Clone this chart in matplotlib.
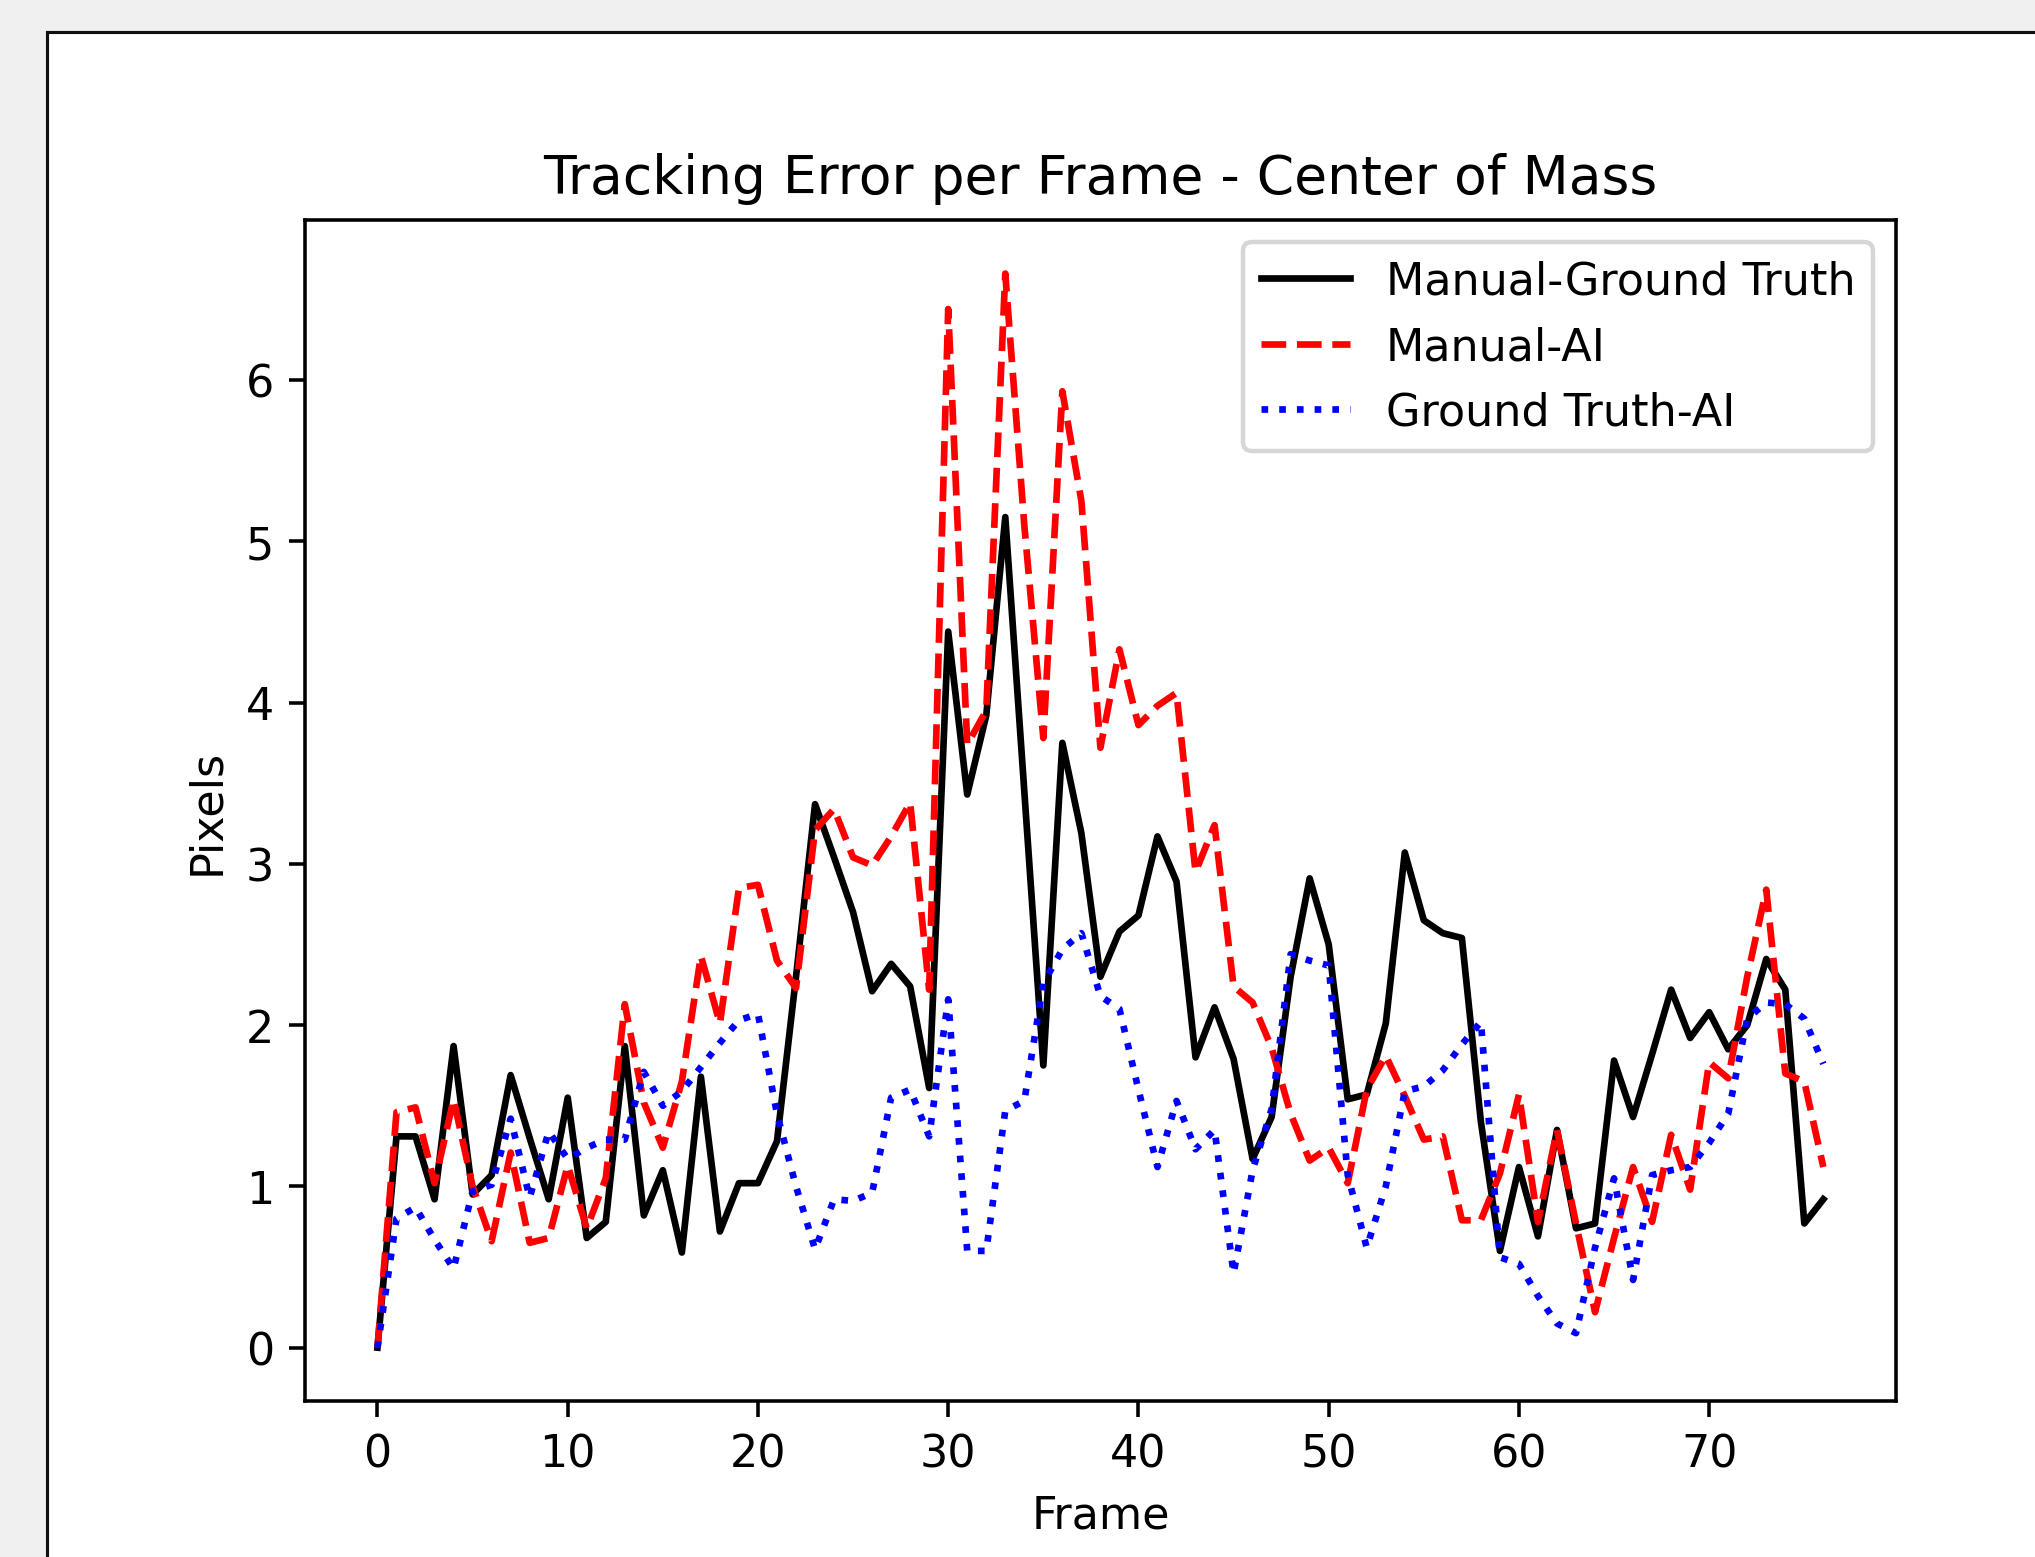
import numpy as np
import matplotlib
matplotlib.use("Agg")
import matplotlib.pyplot as plt
from matplotlib.patches import Rectangle

frames = list(range(77))

manual_gt = [0, 1.31, 1.31, 0.92, 1.87, 0.95, 1.07, 1.69, 1.3, 0.92,
             1.55, 0.68, 0.78, 1.87, 0.82, 1.10, 0.59, 1.68, 0.72, 1.02,
             1.02, 1.28, 2.3, 3.37, 3.04, 2.70, 2.21, 2.38, 2.24, 1.61,
             4.44, 3.43, 3.92, 5.15, 3.45, 1.75, 3.75, 3.19, 2.30, 2.58,
             2.68, 3.17, 2.89, 1.80, 2.11, 1.79, 1.17, 1.43, 2.3, 2.91,
             2.5, 1.54, 1.57, 2.01, 3.07, 2.65, 2.57, 2.54, 1.4, 0.6,
             1.12, 0.69, 1.35, 0.74, 0.77, 1.78, 1.43, 1.82, 2.22, 1.92,
             2.08, 1.85, 2.0, 2.41, 2.22, 0.77, 0.92]

manual_ai = [0, 1.46, 1.49, 1.02, 1.54, 1.0, 0.66, 1.21, 0.65, 0.68,
             1.13, 0.74, 1.05, 2.13, 1.52, 1.24, 1.65, 2.43, 2.01, 2.85,
             2.87, 2.40, 2.23, 3.21, 3.34, 3.04, 2.99, 3.17, 3.38, 2.22,
             6.44, 3.74, 3.95, 6.66, 5.1, 3.78, 5.93, 5.25, 3.72, 4.33,
             3.86, 3.98, 4.06, 2.95, 3.24, 2.24, 2.14, 1.86, 1.45, 1.16,
             1.24, 1.02, 1.6, 1.81, 1.56, 1.29, 1.31, 0.79, 0.79, 1.08,
             1.57, 0.78, 1.35, 0.77, 0.22, 0.68, 1.12, 0.78, 1.32, 0.98,
             1.77, 1.67, 2.3, 2.84, 1.70, 1.65, 1.12]

gt_ai = [0, 0.80, 0.87, 0.67, 0.49, 0.97, 1.01, 1.42, 0.93, 1.34,
         1.17, 1.24, 1.29, 1.29, 1.71, 1.50, 1.59, 1.74, 1.89, 2.03,
         2.07, 1.45, 1.0, 0.61, 0.92, 0.91, 0.96, 1.55, 1.6, 1.31,
         2.16, 0.6, 0.6, 1.47, 1.53, 2.26, 2.47, 2.57, 2.18, 2.1,
         1.6, 1.12, 1.53, 1.23, 1.35, 0.46, 1.10, 1.48, 2.44, 2.4,
         2.37, 1.07, 0.62, 1.0, 1.59, 1.62, 1.72, 1.88, 2.02, 0.56,
         0.52, 0.32, 0.15, 0.09, 0.62, 1.05, 0.42, 1.07, 1.10, 1.12,
         1.27, 1.45, 2.04, 2.14, 2.13, 2.04, 1.76]

labels = ["Manual-Ground Truth", "Manual-AI", "Ground Truth-AI"]

DPI = 320.7
fig = plt.figure(figsize=(2035.9 / DPI, 1557.9 / DPI), dpi=DPI)
fig.patch.set_facecolor("#f0f0f0")

# white panel of the screenshot (matplotlib window)
panel = Rectangle((0.023, -0.2), 1.5, 0.979 + 0.2, transform=fig.transFigure,
                  facecolor="white", edgecolor="#111111", linewidth=0.7,
                  zorder=-10)
fig.patches.append(panel)

ax = fig.add_axes([0.1499, 0.0999, 0.7812, 0.7584])
ax.plot(frames, manual_gt, color="black", linestyle="-", label=labels[0])
ax.plot(frames, manual_ai, color="red", linestyle="--", label=labels[1])
ax.plot(frames, gt_ai, color="blue", linestyle=":", label=labels[2])

ax.set_title("Tracking Error per Frame - Center of Mass")
ax.set_xlabel("Frame")
ax.set_ylabel("Pixels")
ax.legend(loc="upper right")

fig.savefig("out.png", dpi=DPI, facecolor=fig.get_facecolor())
